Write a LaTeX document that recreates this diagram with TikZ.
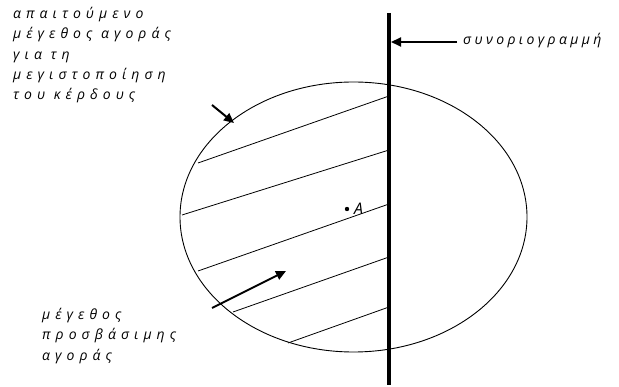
\documentclass[tikz,border=0pt]{standalone}
\usepackage{fontspec}
\newfontfamily\grfont[LetterSpace=24]{Open Sans}
\newfontfamily\grwide[LetterSpace=36]{Open Sans}
\newfontfamily\plainfont{Open Sans}
\usetikzlibrary{arrows.meta}
\tikzset{
  txt/.style={font=\grwide\itshape\fontsize{14}{20.3}\selectfont, align=left, inner sep=0pt, anchor=north west},
  arr/.style={line width=2pt, -{Triangle[length=10pt,width=9pt]}},
  hatch/.style={line width=0.8pt},
  rim/.style={line width=0.9pt},
  border/.style={line width=4pt}
}
\begin{document}
\begin{tikzpicture}[x=1pt,y=-1pt]
\useasboundingbox (0,0) rectangle (619,387);
% ellipse
\draw[rim] (353.5,217) ellipse [x radius=173.5, y radius=135];
% hatch lines
\coordinate (r1) at (389,96);  \coordinate (l1) at (198,163);
\coordinate (r2) at (389,150); \coordinate (l2) at (182,215);
\coordinate (r3) at (389,204); \coordinate (l3) at (198,271);
\coordinate (r4) at (389,257); \coordinate (l4) at (233,312);
\coordinate (r5) at (389,307); \coordinate (l5) at (288,343);
\foreach \i in {1,...,5} \draw[hatch] (r\i) -- (l\i);
% boundary line
\coordinate (btop) at (389,13);
\coordinate (bbot) at (389,385);
\draw[border] (btop) -- (bbot);
% point A
\fill (347,209) circle [radius=2.2pt];
\node[font=\plainfont\itshape\fontsize{16}{18}\selectfont, inner sep=0pt, anchor=base west] (A) at (354,215) {A};
% labels
\node[txt] (t1) at (13,7) {απαιτούμενο\\μέγεθος αγοράς\\για τη\\μεγιστοποίηση\\του κέρδους};
\node[txt] (t2) at (42,308) {μέγεθος\\προσβάσιμης\\αγοράς};
\node[txt, font=\grfont\itshape\fontsize{14}{20.3}\selectfont, anchor=base west] (t3) at (463,45) {συνοριογραμμή};
% arrows
\coordinate (a1s) at (212,105); \coordinate (a1e) at (234,123);
\draw[arr] (a1s) -- (a1e);
\coordinate (a2s) at (212,308); \coordinate (a2e) at (286,271);
\draw[arr] (a2s) -- (a2e);
\coordinate (a3s) at (457,42); \coordinate (a3e) at (391,42);
\draw[arr] (a3s) -- (a3e);
\end{tikzpicture}
\end{document}
